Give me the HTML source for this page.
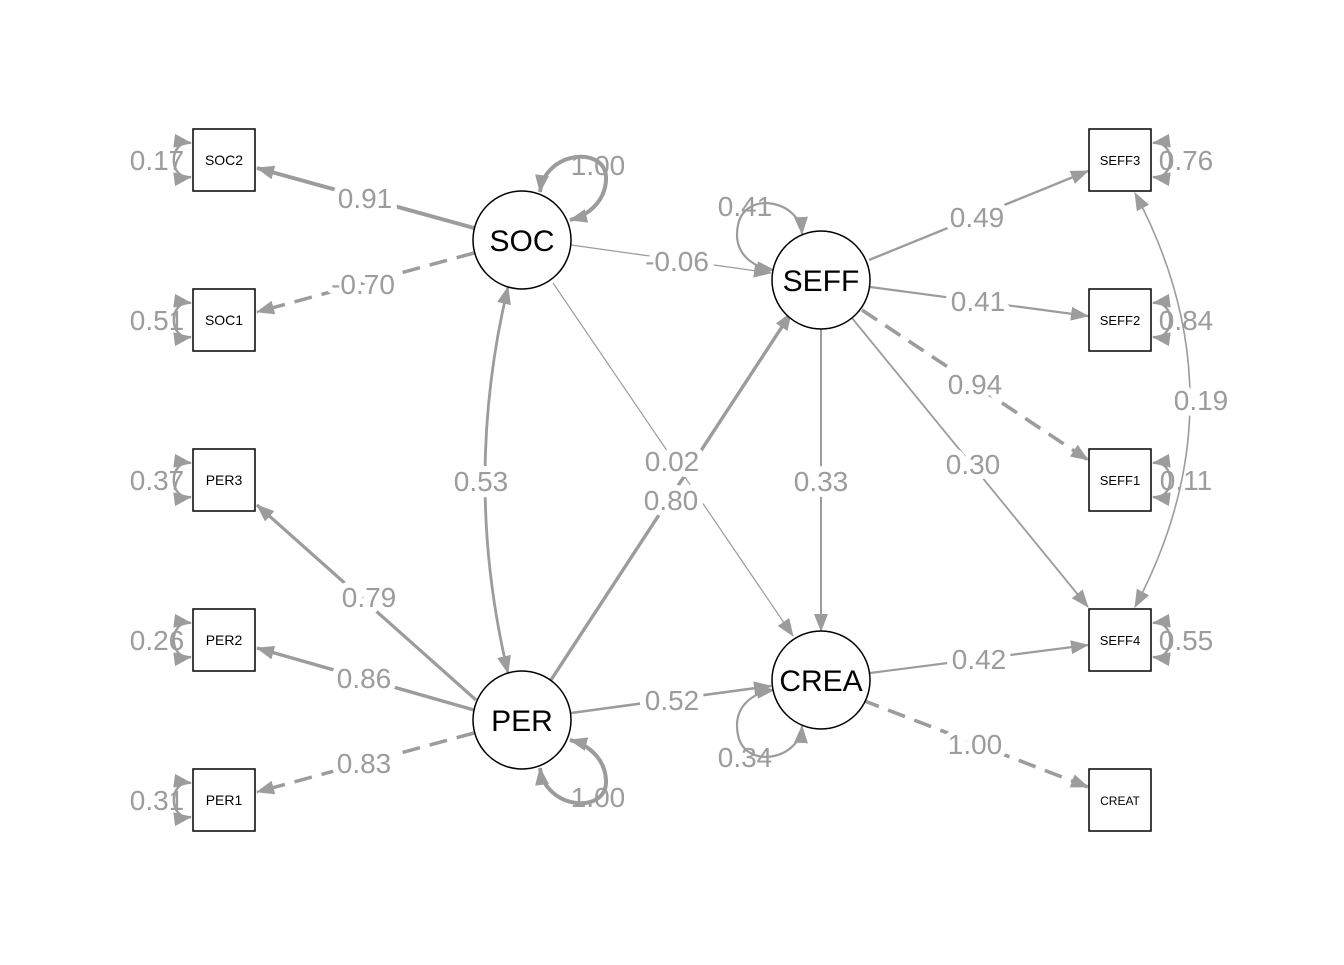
<!DOCTYPE html>
<html><head><style>html,body{margin:0;padding:0;background:#fff}</style></head><body>
<svg width="1344" height="960" viewBox="0 0 1344 960" xmlns="http://www.w3.org/2000/svg" font-family="Liberation Sans, Arial, sans-serif">
<defs>
<marker id="a" markerUnits="userSpaceOnUse" markerWidth="18" markerHeight="14" refX="17" refY="7" orient="auto"><path d="M0,0 L18,7 L0,14 Z" fill="#9c9c9c"/></marker>
<marker id="s" markerUnits="userSpaceOnUse" markerWidth="18" markerHeight="14" refX="1" refY="7" orient="auto"><path d="M18,0 L0,7 L18,14 Z" fill="#9c9c9c"/></marker>
</defs>
<g stroke="#9c9c9c" fill="none">
<line x1="474" y1="228" x2="257" y2="168" stroke-width="4" marker-end="url(#a)"/>
<line x1="474" y1="253" x2="257" y2="312" stroke-width="3.5" stroke-dasharray="18,10" marker-end="url(#a)"/>
<line x1="571" y1="245" x2="771" y2="273" stroke-width="1.3" marker-end="url(#a)"/>
<line x1="553" y1="283" x2="793" y2="636" stroke-width="1.2" marker-end="url(#a)"/>
<path d="M508,287 Q462,480 508,673" stroke-width="2.8" marker-start="url(#s)" marker-end="url(#a)"/>
<line x1="476" y1="700" x2="257" y2="505" stroke-width="3.2" marker-end="url(#a)"/>
<line x1="474" y1="710" x2="257" y2="648" stroke-width="3.5" marker-end="url(#a)"/>
<line x1="474" y1="733" x2="257" y2="792" stroke-width="3.5" stroke-dasharray="18,10" marker-end="url(#a)"/>
<line x1="551" y1="680" x2="791" y2="313" stroke-width="3.4" marker-end="url(#a)"/>
<line x1="571" y1="713" x2="771" y2="686" stroke-width="2.6" marker-end="url(#a)"/>
<line x1="869" y1="260" x2="1088" y2="171" stroke-width="2.4" marker-end="url(#a)"/>
<line x1="870" y1="287" x2="1088" y2="316" stroke-width="2.2" marker-end="url(#a)"/>
<line x1="862" y1="310" x2="1088" y2="460" stroke-width="3.6" stroke-dasharray="18,10" marker-end="url(#a)"/>
<line x1="852" y1="318" x2="1088" y2="607" stroke-width="1.8" marker-end="url(#a)"/>
<line x1="821" y1="329" x2="821" y2="631" stroke-width="2" marker-end="url(#a)"/>
<line x1="870" y1="673" x2="1088" y2="645" stroke-width="2.2" marker-end="url(#a)"/>
<line x1="862" y1="700" x2="1088" y2="787" stroke-width="3.6" stroke-dasharray="18,10" marker-end="url(#a)"/>
<path d="M1135,193 Q1245,400 1135,607" stroke-width="1.6" marker-start="url(#s)" marker-end="url(#a)"/>
<path d="M540,192 C545,150 608,145 606,180 C605,200 590,215 570,220" stroke-width="4" marker-start="url(#s)" marker-end="url(#a)"/>
<path d="M540,768 C545,810 608,815 606,780 C605,760 590,745 570,740" stroke-width="4" marker-start="url(#s)" marker-end="url(#a)"/>
<path d="M802,234 C800,200 745,190 738,225 C732,255 755,268 774,270" stroke-width="2.2" marker-end="url(#a)" marker-start="url(#s)"/>
<path d="M802,726 C800,760 745,770 738,735 C732,705 755,692 774,690" stroke-width="2.2" marker-end="url(#a)" marker-start="url(#s)"/>
<g stroke-width="2.4">
<path d="M191,143 C168,140 168,180 191,177" marker-start="url(#s)" marker-end="url(#a)"/>
<path d="M191,303 C168,300 168,340 191,337" marker-start="url(#s)" marker-end="url(#a)"/>
<path d="M191,463 C168,460 168,500 191,497" marker-start="url(#s)" marker-end="url(#a)"/>
<path d="M191,623 C168,620 168,660 191,657" marker-start="url(#s)" marker-end="url(#a)"/>
<path d="M191,783 C168,780 168,820 191,817" marker-start="url(#s)" marker-end="url(#a)"/>
<path d="M1153,143 C1176,140 1176,180 1153,177" marker-start="url(#s)" marker-end="url(#a)"/>
<path d="M1153,303 C1176,300 1176,340 1153,337" marker-start="url(#s)" marker-end="url(#a)"/>
<path d="M1153,463 C1176,460 1176,500 1153,497" marker-start="url(#s)" marker-end="url(#a)"/>
<path d="M1153,623 C1176,620 1176,660 1153,657" marker-start="url(#s)" marker-end="url(#a)"/>
</g>
</g>
<g fill="#fff" stroke="#000" stroke-width="1.5">
<rect x="193" y="129" width="62" height="62"/><rect x="193" y="289" width="62" height="62"/>
<rect x="193" y="449" width="62" height="62"/><rect x="193" y="609" width="62" height="62"/>
<rect x="193" y="769" width="62" height="62"/>
<rect x="1089" y="129" width="62" height="62"/><rect x="1089" y="289" width="62" height="62"/>
<rect x="1089" y="449" width="62" height="62"/><rect x="1089" y="609" width="62" height="62"/>
<rect x="1089" y="769" width="62" height="62"/>
<circle cx="522" cy="240" r="49"/><circle cx="821" cy="280" r="49"/>
<circle cx="522" cy="720" r="49"/><circle cx="821" cy="680" r="49"/>
</g>
<g text-anchor="middle" fill="#000" font-size="14">
<text x="224" y="165">SOC2</text><text x="224" y="325">SOC1</text><text x="224" y="485">PER3</text>
<text x="224" y="645">PER2</text><text x="224" y="805">PER1</text>
<text x="1120" y="165" font-size="13">SEFF3</text><text x="1120" y="325" font-size="13">SEFF2</text>
<text x="1120" y="485" font-size="13">SEFF1</text><text x="1120" y="645" font-size="13">SEFF4</text>
<text x="1120" y="805" font-size="12">CREAT</text>
<g font-size="30"><text x="522" y="251">SOC</text><text x="821" y="291">SEFF</text><text x="522" y="731">PER</text><text x="821" y="691">CREA</text></g>
</g>
<g text-anchor="middle" fill="#9c9c9c" font-size="28" stroke="#fff" stroke-width="12" paint-order="stroke" stroke-linejoin="round">
<text x="365" y="208">0.91</text><text x="363" y="294">-0.70</text><text x="677" y="271">-0.06</text>
<text x="672" y="471">0.02</text><text x="481" y="491">0.53</text><text x="671" y="510">0.80</text>
<text x="369" y="607">0.79</text><text x="364" y="688">0.86</text><text x="364" y="773">0.83</text>
<text x="672" y="710">0.52</text><text x="977" y="227">0.49</text><text x="978" y="311">0.41</text>
<text x="975" y="394">0.94</text><text x="973" y="474">0.30</text><text x="821" y="491">0.33</text>
<text x="979" y="669">0.42</text><text x="975" y="754">1.00</text><text x="1201" y="410">0.19</text>
</g>
<g text-anchor="middle" fill="#9c9c9c" font-size="28">
<text x="598" y="175">1.00</text><text x="598" y="807">1.00</text><text x="745" y="216">0.41</text><text x="745" y="767">0.34</text>
<text x="157" y="170">0.17</text><text x="157" y="330">0.51</text><text x="157" y="490">0.37</text><text x="157" y="650">0.26</text><text x="157" y="810">0.31</text>
<text x="1186" y="170">0.76</text><text x="1186" y="330">0.84</text><text x="1186" y="490">0.11</text><text x="1186" y="650">0.55</text>
</g>
</svg>
</body></html>
